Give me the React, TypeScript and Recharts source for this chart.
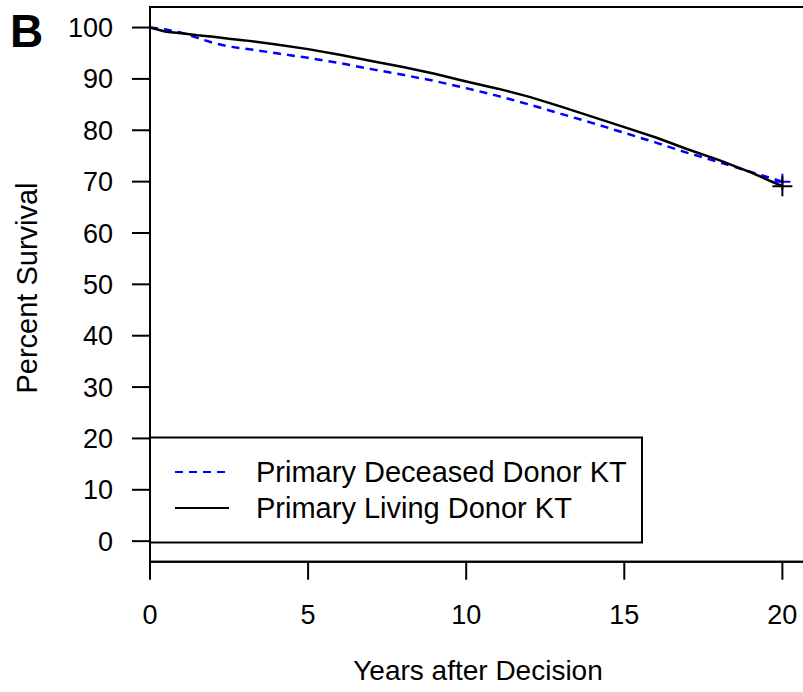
import { LineChart, Line, XAxis, YAxis, ReferenceArea } from 'recharts';

// Kaplan-Meier style survival (percent)
const years = [0, 0.5, 1, 1.5, 2, 2.5, 3, 4, 5, 6, 7, 8, 9, 10, 11, 12, 13, 14, 15, 16, 17, 18, 19, 20];
const deceasedSurvival = [
  100, 99.6, 99.0, 98.0, 97.0, 96.3, 95.9, 95.0, 94.1, 93.1, 91.9, 90.8, 89.6, 88.2, 86.7, 85.0,
  83.2, 81.4, 79.5, 77.6, 75.6, 73.8, 71.9, 70.0,
];
const livingSurvival = [
  100, 99.2, 98.9, 98.5, 98.2, 97.8, 97.5, 96.7, 95.8, 94.7, 93.5, 92.3, 91.0, 89.5, 88.1, 86.5,
  84.6, 82.6, 80.6, 78.6, 76.3, 74.2, 71.8, 69.1,
];
const xTicks = [0, 5, 10, 15, 20];
const yTicks = [0, 10, 20, 30, 40, 50, 60, 70, 80, 90, 100];

const seriesNames = ['Primary Deceased Donor KT', 'Primary Living Donor KT'];
const seriesKeys = ['deceased', 'living'];
const seriesColors = ['#0000ff', '#000000'];
const seriesDash = ['8 6', undefined];

const data = years.map((year, i) => ({
  year,
  deceased: deceasedSurvival[i],
  living: livingSurvival[i],
}));

const FONT = '"Liberation Sans", Arial, Helvetica, sans-serif';

// "+" censoring mark on the last point only
const censorDot = (color: string, size: number) => (props: any) => {
  const { cx, cy, index } = props;
  if (index !== years.length - 1) return <g key={`dot-${index}`} />;
  return (
    <path
      key={`dot-${index}`}
      d={`M${cx - size},${cy}H${cx + size}M${cx},${cy - size}V${cy + size}`}
      stroke={color}
      strokeWidth={2}
      fill="none"
    />
  );
};

export default function App() {
  return (
    <div
      style={{
        position: 'absolute',
        left: 0,
        top: 0,
        width: 803,
        height: 692,
        overflow: 'hidden',
        background: '#fff',
        fontFamily: FONT,
      }}
    >
      <LineChart width={814} height={692} data={data} margin={{ top: 7, right: 0, bottom: 0, left: 0 }}>
        <ReferenceArea x1={0} x2={21} y1={-4} y2={104} fill="none" stroke="#000" strokeWidth={2} />
        <XAxis
          type="number"
          dataKey="year"
          domain={[0, 21]}
          ticks={xTicks}
          height={130.3}
          tickSize={18}
          tickMargin={25}
          stroke="#000"
          strokeWidth={2}
          tick={{ fill: '#000', fontSize: 27, fontFamily: FONT }}
          label={{
            content: () => (
              <text x={478} y={680} textAnchor="middle" fontSize={28} fontFamily={FONT} fill="#000">
                Years after Decision
              </text>
            ),
          }}
        />
        <YAxis
          type="number"
          domain={[-4, 104]}
          ticks={yTicks}
          width={150}
          tickSize={18}
          tickMargin={19}
          stroke="#000"
          strokeWidth={2}
          allowDataOverflow
          tick={{ fill: '#000', fontSize: 27, fontFamily: FONT }}
          label={{
            content: () => (
              <text
                x={27}
                y={288}
                transform="rotate(-90, 27, 288)"
                textAnchor="middle"
                dominantBaseline="central"
                fontSize={29}
                fontFamily={FONT}
                fill="#000"
              >
                Percent Survival
              </text>
            ),
          }}
        />
        <Line
          dataKey="deceased"
          type="linear"
          stroke={seriesColors[0]}
          strokeWidth={2.5}
          strokeDasharray={seriesDash[0]}
          dot={censorDot(seriesColors[0], 8)}
          activeDot={false}
          isAnimationActive={false}
        />
        <Line
          dataKey="living"
          type="linear"
          stroke={seriesColors[1]}
          strokeWidth={2.5}
          dot={censorDot(seriesColors[1], 10)}
          activeDot={false}
          isAnimationActive={false}
        />
      </LineChart>

      {/* panel letter */}
      <div
        style={{
          position: 'absolute',
          left: 10,
          top: 6,
          fontSize: 46,
          fontWeight: 'bold',
          lineHeight: '50px',
          color: '#000',
        }}
      >
        B
      </div>

      {/* legend box */}
      <svg
        width={494}
        height={108}
        style={{ position: 'absolute', left: 149, top: 436 }}
      >
        <rect x={1} y={1.5} width={492} height={105} fill="#fff" stroke="#000" strokeWidth={2} />
        {seriesKeys.map((key, i) => (
          <g key={key}>
            <line
              x1={26}
              x2={80}
              y1={36 + i * 36}
              y2={36 + i * 36}
              stroke={seriesColors[i]}
              strokeWidth={2}
              strokeDasharray={seriesDash[i]}
            />
            <text
              x={107}
              y={36 + i * 36}
              dominantBaseline="central"
              fontSize={29}
              fontFamily={FONT}
              fill="#000"
            >
              {seriesNames[i]}
            </text>
          </g>
        ))}
      </svg>
    </div>
  );
}
